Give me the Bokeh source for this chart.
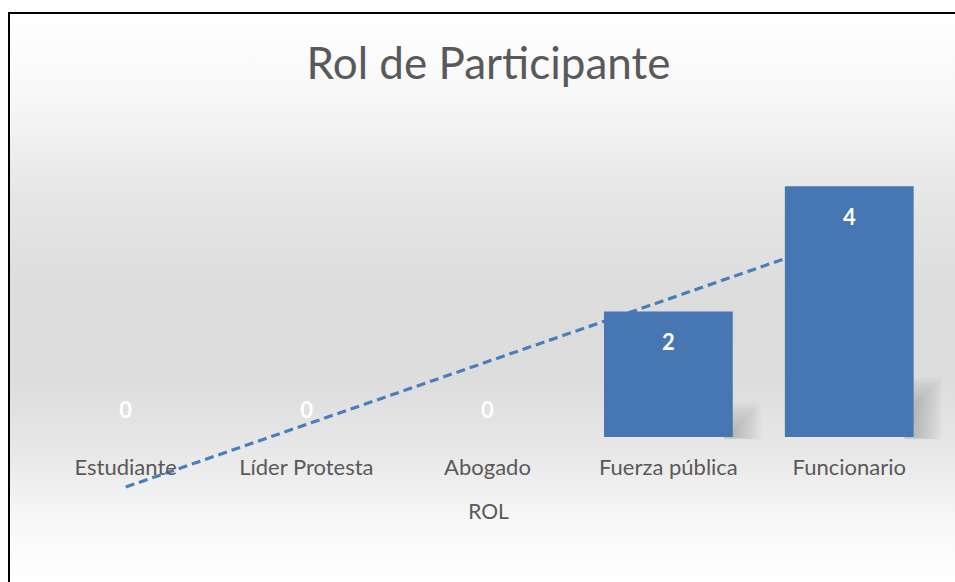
import numpy as np
from bokeh.plotting import figure
from bokeh.models import ColumnDataSource, Range1d, FixedTicker
from bokeh.core.properties import value
from bokeh.embed import file_html
from bokeh.resources import INLINE

# ---- data ----
categories = ["Estudiante", "Líder Protesta", "Abogado", "Fuerza pública", "Funcionario"]
counts = [0, 0, 0, 2, 4]
title_text = "Rol de Participante"
x_title = "ROL"

idx = list(range(len(categories)))

# layout constants (pixels)
W, H = 947, 570        # host size (border-box)
CW, CH = W - 2, H - 2  # content size inside left/top border
LEFT = 9               # frame left inside content
SPACING = 180.5        # px per category
PX_PER_UNIT = 62.4     # px per count
CENTER0 = 106          # px of first category center in frame
BASE = 421             # px of baseline in content
TOP = 93               # frame top (= title panel height)
FW = CW - LEFT

p = figure(width=W, height=H, output_backend="svg", toolbar_location=None,
           x_range=Range1d(-CENTER0 / SPACING, (FW - CENTER0) / SPACING),
           y_range=Range1d(-(CH - BASE) / PX_PER_UNIT, (BASE - TOP) / PX_PER_UNIT),
           min_border_left=LEFT, min_border_right=0, min_border_bottom=0, min_border_top=TOP)
p.margin = (12, 0, 0, 8)
p.styles = {
    "background": "linear-gradient(to bottom, #ffffff 0%, #f7f7f7 15%, #e6e6e6 32%, #dcdcdc 50%, #dddddd 65%, #e9e9e9 78%, #f8f8f8 90%, #ffffff 100%)",
    "border-left": "2px solid #000000",
    "border-top": "2px solid #000000",
}
p.background_fill_color = None
p.border_fill_color = None
p.outline_line_color = None
p.grid.visible = False
p.yaxis.visible = False

# title
p.title.text = title_text
p.title.align = "center"
p.title.text_font = "Lato"
p.title.text_font_size = "44px"
p.title.text_font_style = "normal"
p.title.text_color = "#595959"
p.title.standoff = 39

# trendline (linear least squares of the series)
slope, intercept = np.polyfit(idx, counts, 1)
tx = [idx[0], idx[-1]]
ty = [intercept + slope * t for t in tx]
p.line(tx, ty, line_color="#4a7ebb", line_width=3.2, line_dash="9 5")

# soft shadows to the right of the bars
bw = 0.712
for j in range(10):
    ext = (10 - j) * 2.8 / SPACING
    for i, v in zip(idx, counts):
        if v > 0:
            p.quad(left=i + bw / 2 - 0.05, right=i + bw / 2 + ext,
                   bottom=-0.04 + j * 0.004, top=v * 0.2 + 0.15 - j * 0.045,
                   fill_color="#7a7a7a", fill_alpha=0.045, line_color=None)

src = ColumnDataSource(dict(x=idx, top=counts, cat=categories,
                            lab=[str(c) for c in counts],
                            off=[30 if c > 0 else -27 for c in counts]))
p.vbar(x="x", top="top", bottom=0, width=bw, source=src,
       fill_color="#4677b2", line_color=None)

p.text(x="x", y="top", text="lab", y_offset="off", source=src,
       text_font=value("Lato"), text_font_style="bold", text_font_size="22px",
       text_color="#ffffff", text_align="center", text_baseline="middle")

# category axis
xa = p.xaxis[0]
xa.fixed_location = 0
xa.ticker = FixedTicker(ticks=idx)
xa.major_label_overrides = {i: c for i, c in zip(idx, categories)}
xa.axis_line_color = None
xa.major_tick_line_color = None
xa.minor_tick_line_color = None
xa.major_label_text_font = "Lato"
xa.major_label_text_font_size = "22px"
xa.major_label_text_color = "#595959"
xa.major_label_standoff = 10
xa.axis_label = x_title
xa.axis_label_text_font = "Lato"
xa.axis_label_text_font_size = "21px"
xa.axis_label_text_font_style = "normal"
xa.axis_label_text_color = "#595959"
xa.axis_label_standoff = 15

open("out.html", "w").write(file_html(p, INLINE))
